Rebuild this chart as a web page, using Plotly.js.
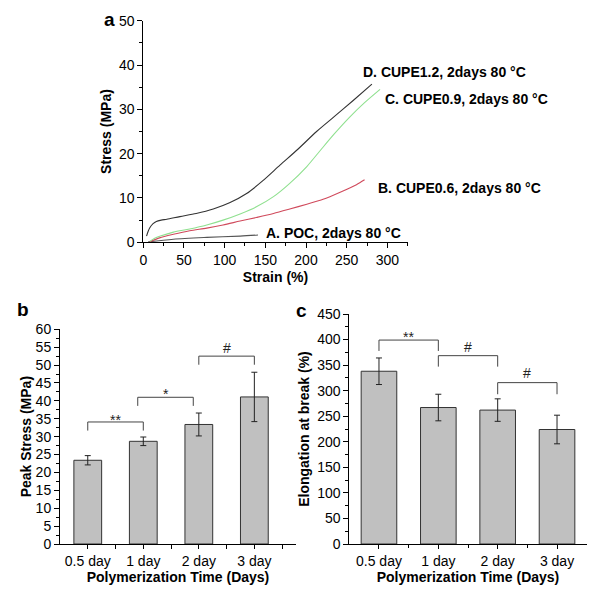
<!DOCTYPE html>
<html><head><meta charset="utf-8">
<script src="https://cdn.plot.ly/plotly-3.0.1.min.js"></script>
<style>html,body{margin:0;padding:0;background:#fff}</style>
</head><body><div id="chart" style="width:600px;height:592px"></div>
<script>
// ---- Panel a: stress-strain curves ----
const strainA = [6, 37, 78, 119, 141];
const stressA = [0.1, 0.7, 1.1, 1.4, 1.65];
const strainB = [8, 20, 37, 57, 78, 98, 119, 139, 160, 180, 201, 221, 242, 262, 272];
const stressB = [0.1, 1.0, 1.8, 2.6, 3.2, 3.9, 4.8, 5.6, 6.5, 7.5, 8.6, 9.7, 11.3, 13.0, 14.1];
const strainC = [8, 14, 21, 37, 57, 78, 98, 119, 139, 160, 180, 201, 217, 235, 254, 272, 291];
const stressC = [0.2, 0.9, 1.4, 2.3, 3.0, 3.9, 5.0, 6.4, 8.0, 10.3, 13.3, 17.1, 20.6, 24.5, 28.3, 31.5, 34.5];
const strainD = [4, 6, 8, 12, 16, 22, 29, 45, 65, 86, 106, 127, 147, 168, 190, 213, 235, 258, 281];
const stressD = [1.4, 2.5, 3.3, 4.2, 4.7, 5.0, 5.2, 5.8, 6.5, 7.5, 8.9, 11.0, 13.9, 17.4, 21.0, 25.0, 28.4, 32.0, 35.7];
const curveLabels = ['A. POC, 2days 80 \u00b0C', 'B. CUPE0.6, 2days 80 \u00b0C', 'C. CUPE0.9, 2days 80 \u00b0C', 'D. CUPE1.2, 2days 80 \u00b0C'];
const labelStrain = [148.4, 286.2, 295.0, 267.2];
const labelStress = [2.2, 12.2, 32.3, 38.4];

// ---- Panels b, c: bars ----
const days = ['0.5 day', '1 day', '2 day', '3 day'];
const peakStress = [23.4, 28.7, 33.4, 41.1];
const peakStressErr = [1.3, 1.2, 3.2, 6.9];
const elongation = [338, 267, 262, 224];
const elongationErr = [26, 26, 22, 28];

// significance brackets (positions in category units, 1 = first day)
const bracketBFrom = [1, 1.9, 3];
const bracketBTo = [2, 2.9, 4];
const bracketBTop = [34.1, 41.0, 52.5];
const bracketBEnd = [31.7, 38.6, 50.1];
const bracketBLabel = ['**', '*', '#'];
const bracketBLabelY = [35.9, 43.0, 54.7];

const bracketCFrom = [1, 2, 3];
const bracketCTo = [2, 3, 4];
const bracketCTop = [399, 368.5, 315.7];
const bracketCEnd = [377.7, 347, 293];
const bracketCLabel = ['**', '#', '#'];
const bracketCLabelY = [412, 385, 334];

const FONT = 'Liberation Sans, Arial, Helvetica, sans-serif';
const catPos = days.map((d, i) => i + 1);

function bracketPath(from, to, top, end) {
  const x = [], y = [];
  for (let i = 0; i < from.length; i++) {
    x.push(from[i], from[i], to[i], to[i], null);
    y.push(end[i], top[i], top[i], end[i], null);
  }
  return {x, y};
}
const bpB = bracketPath(bracketBFrom, bracketBTo, bracketBTop, bracketBEnd);
const bpC = bracketPath(bracketCFrom, bracketCTo, bracketCTop, bracketCEnd);

const lineW = 1.1;
const curveLine = c => ({color: c, width: lineW, shape: 'spline', smoothing: 0.8});
const traces = [
  {x: strainA, y: stressA, type: 'scatter', mode: 'lines', line: curveLine('#555555'), xaxis: 'x', yaxis: 'y'},
  {x: strainB, y: stressB, type: 'scatter', mode: 'lines', line: curveLine('#d04a5c'), xaxis: 'x', yaxis: 'y'},
  {x: strainC, y: stressC, type: 'scatter', mode: 'lines', line: curveLine('#8fe08f'), xaxis: 'x', yaxis: 'y'},
  {x: strainD, y: stressD, type: 'scatter', mode: 'lines', line: curveLine('#333333'), xaxis: 'x', yaxis: 'y'},
  {x: catPos, y: peakStress, type: 'bar', width: 0.5, xaxis: 'x2', yaxis: 'y2',
   marker: {color: '#c0c0c0', line: {color: '#333333', width: 1}},
   error_y: {type: 'data', array: peakStressErr, visible: true, color: '#222222', thickness: 1, width: 3}},
  {x: bpB.x, y: bpB.y, type: 'scatter', mode: 'lines', line: {color: '#444444', width: 1}, xaxis: 'x2', yaxis: 'y2', connectgaps: false},
  {x: catPos, y: elongation, type: 'bar', width: 0.6, xaxis: 'x3', yaxis: 'y3',
   marker: {color: '#c0c0c0', line: {color: '#333333', width: 1}},
   error_y: {type: 'data', array: elongationErr, visible: true, color: '#222222', thickness: 1, width: 3}},
  {x: bpC.x, y: bpC.y, type: 'scatter', mode: 'lines', line: {color: '#444444', width: 1}, xaxis: 'x3', yaxis: 'y3', connectgaps: false}
];

const W = 600, H = 592;
const px = v => v / W, py = v => 1 - v / H;
const tickFont = {family: FONT, size: 14, color: '#000'};
const titleFont = {family: FONT, size: 14, color: '#000', weight: 'bold'};
const baseAxis = {
  showline: true, linecolor: '#000', linewidth: 1, showgrid: false, zeroline: false,
  ticks: 'outside', ticklen: 5, tickwidth: 1, tickcolor: '#000', tickfont: tickFont
};

const annotations = [];
curveLabels.forEach((t, i) => annotations.push({
  text: t, x: labelStrain[i], y: labelStress[i], xref: 'x', yref: 'y',
  xanchor: 'left', yanchor: 'middle', showarrow: false,
  font: {family: FONT, size: 14, color: '#000', weight: 'bold'}
}));
bracketBLabel.forEach((t, i) => annotations.push({
  text: t, x: (bracketBFrom[i] + bracketBTo[i]) / 2, y: bracketBLabelY[i], xref: 'x2', yref: 'y2',
  xanchor: 'center', yanchor: 'middle', showarrow: false, yshift: t.indexOf('*') >= 0 ? -4 : 0,
  font: {family: FONT, size: 14, color: '#222'}
}));
bracketCLabel.forEach((t, i) => annotations.push({
  text: t, x: (bracketCFrom[i] + bracketCTo[i]) / 2, y: bracketCLabelY[i], xref: 'x3', yref: 'y3',
  xanchor: 'center', yanchor: 'middle', showarrow: false, yshift: t.indexOf('*') >= 0 ? -4 : 0,
  font: {family: FONT, size: 14, color: '#222'}
}));
[['a', 110, 19], ['b', 22.5, 309], ['c', 301, 310]].forEach(([t, x, y]) => annotations.push({
  text: t, x: px(x), y: py(y), xref: 'paper', yref: 'paper', xanchor: 'center', yanchor: 'middle',
  showarrow: false, font: {family: FONT, size: 19, color: '#000', weight: 'bold'}
}));

const layout = {
  width: W, height: H, margin: {l: 0, r: 0, t: 0, b: 0},
  paper_bgcolor: '#fff', plot_bgcolor: '#fff', showlegend: false, hovermode: false,
  font: {family: FONT, size: 14, color: '#000'},
  xaxis: Object.assign({}, baseAxis, {
    domain: [px(143.3), px(407.7)], anchor: 'y', range: [0, 325],
    tickmode: 'linear', tick0: 0, dtick: 50,
    minor: {tick0: 0, dtick: 25, ticks: 'outside', ticklen: 3, tickcolor: '#000'},
    title: {text: 'Strain (%)', font: titleFont, standoff: 5}
  }),
  yaxis: Object.assign({}, baseAxis, {
    domain: [py(242.3), py(20.7)], anchor: 'x', range: [0, 50],
    tickmode: 'linear', tick0: 0, dtick: 10,
    minor: {tick0: 0, dtick: 5, ticks: 'outside', ticklen: 3, tickcolor: '#000'},
    title: {text: 'Stress (MPa)', font: titleFont, standoff: 4}
  }),
  xaxis2: Object.assign({}, baseAxis, {
    domain: [px(60), px(296)], anchor: 'y2', range: [0.5, 4.75],
    tickmode: 'array', tickvals: catPos, ticktext: days, ticklen: 4,
    minor: {tickmode: 'array', tickvals: [1.5, 2.5, 3.5, 4.5], ticks: 'outside', ticklen: 4, tickcolor: '#000'},
    title: {text: 'Polymerization Time (Days)', font: titleFont, standoff: 4}
  }),
  yaxis2: Object.assign({}, baseAxis, {
    domain: [py(544), py(329.3)], anchor: 'x2', range: [0, 60],
    tickmode: 'linear', tick0: 0, dtick: 5,
    minor: {tick0: 0, dtick: 2.5, ticks: 'outside', ticklen: 3, tickcolor: '#000'},
    title: {text: 'Peak Stress (MPa)', font: titleFont, standoff: 0}
  }),
  xaxis3: Object.assign({}, baseAxis, {
    domain: [px(349.3), px(586.7)], anchor: 'y3', range: [0.5, 4.5],
    tickmode: 'array', tickvals: catPos, ticktext: days, ticklen: 4,
    minor: {tickmode: 'array', tickvals: [1.5, 2.5, 3.5], ticks: 'outside', ticklen: 3, tickcolor: '#000'},
    title: {text: 'Polymerization Time (Days)', font: titleFont, standoff: 4}
  }),
  yaxis3: Object.assign({}, baseAxis, {
    domain: [py(544), py(314)], anchor: 'x3', range: [0, 450],
    tickmode: 'linear', tick0: 0, dtick: 50,
    minor: {tick0: 0, dtick: 25, ticks: 'outside', ticklen: 3, tickcolor: '#000'},
    title: {text: 'Elongation at break (%)', font: titleFont, standoff: 4}
  }),
  annotations: annotations
};

Plotly.newPlot('chart', traces, layout, {staticPlot: true, displayModeBar: false});
</script>
</body></html>
